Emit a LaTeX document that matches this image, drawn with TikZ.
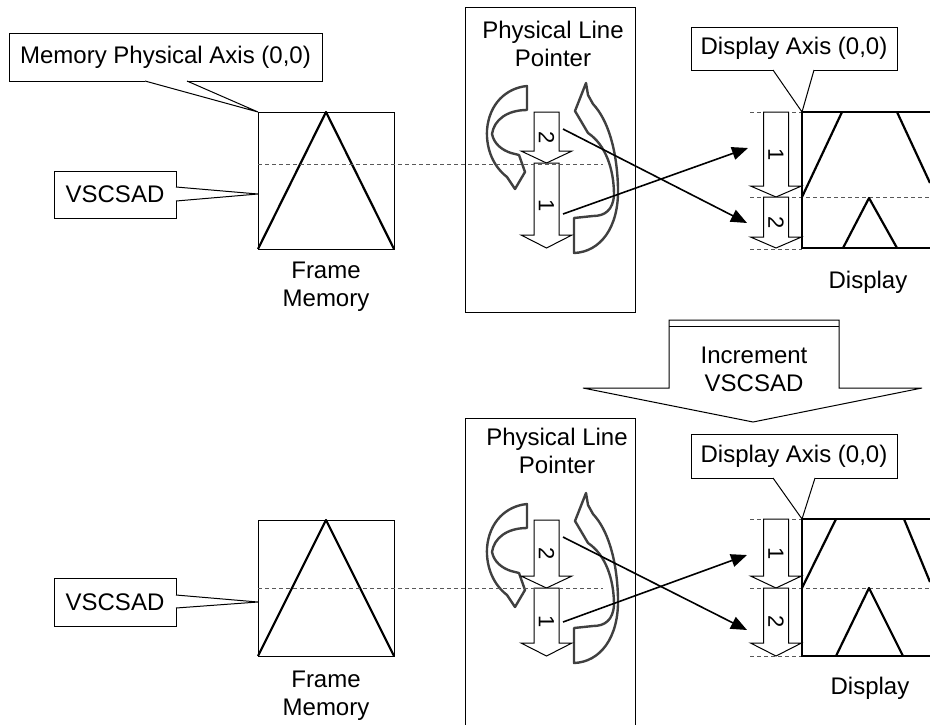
\documentclass[tikz,border=0pt]{standalone}
\usepackage{fontspec}
\setmainfont{Liberation Sans}
\usetikzlibrary{arrows.meta}

% down block arrow: name, x centre, top, shaft end, tip, number
\newcommand{\dnarrow}[6]{%
  \draw[blockarrow] ({#2-12.5},#3) -- ({#2+12.5},#3) -- ({#2+12.5},#4) -- ({#2+25.5},#4)
    -- (#2,#5) -- ({#2-25.5},#4) -- ({#2-12.5},#4) -- cycle;
  \node[numtxt] (#1) at (#2,{(#3+#5)/2}) {#6};}

% the two turning arrows beside the line pointer
\newcommand{\leftcurl}{%
  \draw[curl] (527,86) -- (527,110)
    .. controls (507,110) and (494,120) .. (492,134)
    .. controls (494,144) and (502,150) .. (511,153)
    -- (519,155) -- (525,172) -- (515,189) -- (507,177)
    .. controls (494,167) and (486,150) .. (487,130)
    .. controls (489,104) and (506,88) .. (527,86) -- cycle;}
\newcommand{\rightcurl}{%
  \draw[curl] (574,218) -- (574,253)
    .. controls (600,252) and (619,228) .. (618,188)
    .. controls (617,150) and (608,120) .. (593,104)
    -- (588,95) -- (586,83) -- (575,111) -- (588,133)
    .. controls (606,145) and (614,170) .. (614,195)
    .. controls (613,210) and (605,216) .. (593,216) -- cycle;}

\begin{document}
\begin{tikzpicture}[x=0.5pt, y=-0.5pt,
    every node/.style={font=\fontsize{12}{14}\selectfont, align=center},
    thinline/.style={line width=0.5pt},
    thickline/.style={line width=1.1pt},
    dashline/.style={line width=0.5pt, black!65, dash pattern=on 2pt off 1.5pt},
    blockarrow/.style={line width=0.5pt, fill=white},
    curl/.style={line width=1.2pt, black!75, fill=white, line join=round},
    numtxt/.style={rotate=-90, inner sep=0pt, font=\fontsize{11}{13}\selectfont},
    link/.style={line width=0.8pt, -{Triangle[length=8pt, width=6.5pt]}}]
  \useasboundingbox (0,0) rectangle (930,724);

  % ---------- before the increment ----------
  \coordinate (memorigin) at (258,112);
  \coordinate (vsc1) at (258,194);
  \draw[thinline] (145,81) -- (9,81) -- (9,33) -- (322,33) -- (322,81) -- (187,81);
  \draw[thinline] (145,81) -- (memorigin) -- (187,81);
  \node (memaxis) at (165.5,57) {Memory Physical Axis (0,0)};
  \draw[thinline] (176,187) -- (176,171) -- (54,171) -- (54,218) -- (176,218) -- (176,201);
  \draw[thinline] (176,187) -- (vsc1) -- (176,201);
  \node (vsclabel1) at (115,194.5) {VSCSAD};

  \draw[thinline] (258,112) rectangle (394,249);
  \draw[thickline, line join=round] (258,249) -- (326,112) -- (394,249);
  \node (frame1) at (326,287) {Frame\\Memory};

  \draw[thinline] (465,7) rectangle (635,312);
  \node (ptrtitle1) at (553,44) {Physical Line\\Pointer};
  \leftcurl
  \rightcurl
  \dnarrow{pa2}{546.5}{112}{151}{163}{2}
  \dnarrow{pa1}{546.5}{163}{235}{248}{1}
  \draw[dashline] (258,164) -- (603,164);

  \coordinate (disporigin1) at (802,112);
  \draw[thinline] (773,70) -- (691,70) -- (691,27) -- (897,27) -- (897,70) -- (814,70);
  \draw[thinline] (773,70) -- (disporigin1) -- (814,70);
  \node (dispaxis1) at (794,48.5) {Display Axis (0,0)};
  \draw[dashline] (750,112) -- (802,112);
  \draw[dashline] (750,197) -- (930,197);
  \draw[dashline] (750,249) -- (802,249);
  \draw[thickline] (930,112) -- (802,112) -- (802,248) -- (930,248);
  \draw[thickline] (802,197) -- (842,112);
  \draw[thickline] (897,112) -- (930,183);
  \draw[thickline, line join=round] (843,248) -- (869,198) -- (897,248);
  \dnarrow{da1}{776}{112}{186}{197}{1}
  \dnarrow{da2}{776}{197}{237}{248}{2}
  \node (display1) at (868,282) {Display};

  \coordinate (from2) at (563,129);
  \coordinate (to2) at (747,223);
  \coordinate (from1) at (563,214);
  \coordinate (to1) at (748,148);
  \draw[link] (from2) -- (to2);
  \draw[link] (from1) -- (to1);

  % ---------- increment arrow ----------
  \draw[thinline, fill=white] (669,320) -- (669,388) -- (583,388) -- (753,422)
    -- (922,388) -- (839,388) -- (839,320) -- cycle;
  \draw[thinline] (669,326) -- (839,326);
  \node (increment) at (754,369) {Increment\\VSCSAD};

  % ---------- after the increment ----------
  \coordinate (vsc2) at (258,602);
  \draw[thinline] (176,595) -- (176,578) -- (54,578) -- (54,626) -- (176,626) -- (176,608);
  \draw[thinline] (176,595) -- (vsc2) -- (176,608);
  \node (vsclabel2) at (115,602) {VSCSAD};

  \draw[thinline] (258,520) rectangle (394,656);
  \draw[thickline, line join=round] (258,656) -- (326,520) -- (394,656);
  \node (frame2) at (326,696) {Frame\\Memory};

  \draw[thinline] (465,730) -- (465,418) -- (635,418) -- (635,730);
  \node (ptrtitle2) at (557,451) {Physical Line\\Pointer};
  \begin{scope}[shift={(0,418)}]
    \leftcurl
  \end{scope}
  \begin{scope}[shift={(0,410)}]
    \rightcurl
  \end{scope}
  \dnarrow{pb2}{546.5}{520}{576}{588}{2}
  \dnarrow{pb1}{546.5}{588}{643}{656}{1}
  \draw[dashline] (258,588) -- (603,588);

  \coordinate (disporigin2) at (802,519);
  \draw[thinline] (773,478) -- (691,478) -- (691,434) -- (897,434) -- (897,478) -- (815,478);
  \draw[thinline] (773,478) -- (disporigin2) -- (815,478);
  \node (dispaxis2) at (794,456) {Display Axis (0,0)};
  \draw[dashline] (750,519) -- (802,519);
  \draw[dashline] (750,588) -- (930,588);
  \draw[dashline] (750,656) -- (802,656);
  \draw[thickline] (930,519) -- (802,519) -- (802,656) -- (930,656);
  \draw[thickline] (802,588) -- (836,519);
  \draw[thickline] (904,519) -- (930,582);
  \draw[thickline, line join=round] (836,656) -- (869,588) -- (903,656);
  \dnarrow{db1}{776}{519}{576}{588}{1}
  \dnarrow{db2}{776}{588}{643}{656}{2}
  \node (display2) at (870,688) {Display};

  \coordinate (from2b) at (563,537);
  \coordinate (to2b) at (747,630);
  \coordinate (from1b) at (563,622);
  \coordinate (to1b) at (747,555);
  \draw[link] (from2b) -- (to2b);
  \draw[link] (from1b) -- (to1b);
\end{tikzpicture}
\end{document}
